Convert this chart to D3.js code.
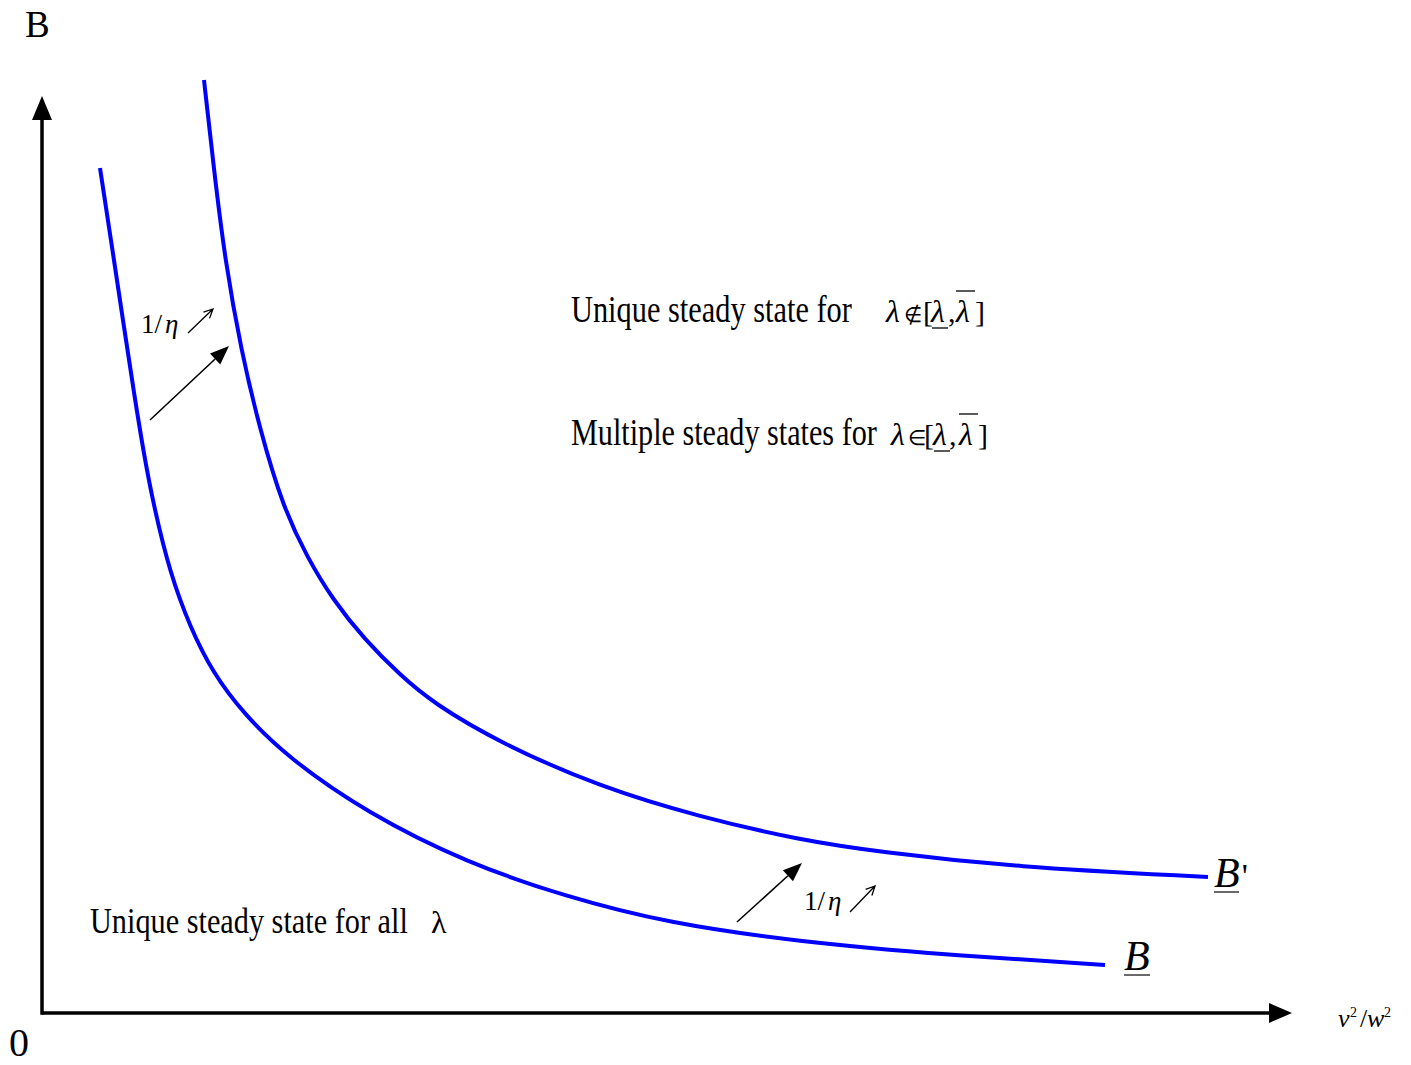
<!DOCTYPE html>
<html>
<head>
<meta charset="utf-8">
<script src="https://cdn.jsdelivr.net/npm/d3@7"></script>
<style>
  html, body { margin: 0; padding: 0; background: #fff; }
  svg { display: block; }
  text { font-family: "Liberation Serif", "Times New Roman", serif; fill: #000; }
</style>
</head>
<body>
<svg id="chart" width="1411" height="1065"></svg>
<script>
// Lower curve B: (v^2/w^2, B) pairs
const curveB = [
  [5.8, 84.5], [7.2, 75.3], [8.2, 68.6], [9.2, 62.0], [10.2, 55.8],
  [11.2, 50.6], [12.8, 44.0], [14.8, 38.6], [17.1, 34.0], [20.1, 30.0],
  [24.5, 25.6], [32.5, 20.0], [42.5, 15.0], [52.5, 11.6], [62.5, 9.0],
  [75.8, 7.1], [90.5, 5.8], [106.3, 4.8]
];

// Shifted curve B' after 1/eta rises
const curveBprime = [
  [16.2, 93.3], [17.2, 84.3], [18.3, 75.3], [19.9, 66.3], [21.8, 58.3],
  [24.1, 50.6], [26.5, 45.6], [29.1, 41.3], [32.3, 37.3], [35.8, 33.8],
  [39.1, 31.0], [45.8, 27.0], [55.8, 22.6], [65.8, 19.6], [75.8, 17.3],
  [83.8, 16.1], [97.1, 14.6], [116.6, 13.6]
];

// Shift arrows between the curves: [x0, y0, x1, y1]
const shiftArrows = [
  [10.8, 59.3, 18.7, 66.7],
  [69.5, 9.1, 76.0, 15.0]
];

// Small "increase" arrows next to the 1/eta labels
const riseArrows = [
  [14.6, 68.0, 17.1, 70.4],
  [80.8, 10.1, 83.3, 12.7]
];

const axisLabels = { y: "B", origin: "0" };

const svg = d3.select("#chart");
const x = d3.scaleLinear().domain([0, 125]).range([42, 1292]);
const y = d3.scaleLinear().domain([0, 100]).range([1013, 13]);

// Axes with arrowheads
const xMax = 125, yMax = 91.7;
svg.append("line")
  .attr("x1", x(0)).attr("y1", y(0)).attr("x2", x(xMax) - 20).attr("y2", y(0))
  .attr("stroke", "#000").attr("stroke-width", 3.5);
svg.append("line")
  .attr("x1", x(0)).attr("y1", y(0) + 1.75).attr("x2", x(0)).attr("y2", y(yMax) + 20)
  .attr("stroke", "#000").attr("stroke-width", 3.5);
svg.append("path")
  .attr("d", `M${x(xMax)},${y(0)} L${x(xMax) - 23},${y(0) - 10} L${x(xMax) - 23},${y(0) + 10} Z`)
  .attr("fill", "#000");
svg.append("path")
  .attr("d", `M${x(0)},${y(yMax)} L${x(0) - 10},${y(yMax) + 24} L${x(0) + 10},${y(yMax) + 24} Z`)
  .attr("fill", "#000");

// Curves
const line = d3.line()
  .x(d => x(d[0])).y(d => y(d[1]))
  .curve(d3.curveBasis);

[curveB, curveBprime].forEach(data => {
  svg.append("path")
    .datum(data)
    .attr("d", line)
    .attr("fill", "none")
    .attr("stroke", "#0000ff")
    .attr("stroke-width", 4)
    .attr("stroke-linecap", "butt");
});

// Filled-head arrows showing the shift
shiftArrows.forEach(([a, b, c, d]) => {
  const x0 = x(a), y0 = y(b), x1 = x(c), y1 = y(d);
  const ang = Math.atan2(y1 - y0, x1 - x0);
  const len = 19, half = 7.5;
  const bx = x1 - len * Math.cos(ang), by = y1 - len * Math.sin(ang);
  svg.append("line")
    .attr("x1", x0).attr("y1", y0).attr("x2", bx).attr("y2", by)
    .attr("stroke", "#000").attr("stroke-width", 1.6);
  const px = -Math.sin(ang) * half, py = Math.cos(ang) * half;
  svg.append("path")
    .attr("d", `M${x1},${y1} L${bx + px},${by + py} L${bx - px},${by - py} Z`)
    .attr("fill", "#000");
});

// Open-head rise arrows
riseArrows.forEach(([a, b, c, d]) => {
  const x0 = x(a), y0 = y(b), x1 = x(c), y1 = y(d);
  const ang = Math.atan2(y1 - y0, x1 - x0);
  const hl = 10;
  const h1 = [x1 - hl * Math.cos(ang - 0.45), y1 - hl * Math.sin(ang - 0.45)];
  const h2 = [x1 - hl * Math.cos(ang + 0.45), y1 - hl * Math.sin(ang + 0.45)];
  svg.append("path")
    .attr("d", `M${x0},${y0} L${x1},${y1} M${h1[0]},${h1[1]} L${x1},${y1} L${h2[0]},${h2[1]}`)
    .attr("fill", "none").attr("stroke", "#000").attr("stroke-width", 1.3);
});

// 1/eta labels
function etaLabel(px, py) {
  const t = svg.append("text").attr("x", px).attr("y", py).attr("font-size", 27);
  t.append("tspan").text("1/");
  t.append("tspan").attr("dx", 3).attr("font-style", "italic").text("η");
}
etaLabel(141, 333);
etaLabel(804, 910);

// Axis labels
svg.append("text").attr("x", 25).attr("y", 37).attr("font-size", 37).text(axisLabels.y);
svg.append("text").attr("x", 9).attr("y", 1056).attr("font-size", 40).text(axisLabels.origin);

// x-axis label v^2 / w^2
const xlab = svg.append("g");
const xpart = (px, py, s, size, italic) => xlab.append("text")
  .attr("x", px).attr("y", py).attr("font-size", size)
  .attr("font-style", italic ? "italic" : "normal").text(s);
xpart(1338, 1027, "v", 26, true);
xpart(1350, 1017, "2", 14, false);
xpart(1360, 1027, "/", 26, false);
xpart(1367, 1027, "w", 26, true);
xpart(1384, 1017, "2", 14, false);

// Curve labels
function curveLabel(px, py, main, prime, ulen) {
  const t = svg.append("text").attr("x", px).attr("y", py).attr("font-size", 42);
  t.append("tspan").attr("font-style", "italic").text(main);
  if (prime) t.append("tspan").attr("dx", 2).attr("font-size", 34).text(prime);
  svg.append("line")
    .attr("x1", px).attr("x2", px + ulen).attr("y1", py + 5).attr("y2", py + 5)
    .attr("stroke", "#444").attr("stroke-width", 1.6);
}
curveLabel(1214, 887, "B", "'", 25);
curveLabel(1124, 970, "B", null, 26);

// Region descriptions: tall serif squeezed horizontally to the given width
function condensed(px, py, str, width, size) {
  const t = svg.append("text").attr("x", 0).attr("y", 0).attr("font-size", size).text(str);
  const natural = t.node().getComputedTextLength();
  t.attr("transform", `translate(${px},${py}) scale(${width / natural},1)`);
}
condensed(571, 322, "Unique steady state for", 281, 38);
condensed(571, 445, "Multiple steady states for", 306, 38);
condensed(90, 933, "Unique steady state for all", 318, 36);
svg.append("text").attr("x", 431).attr("y", 933).attr("font-size", 32).text("λ");

// Interval expressions: λ ∉ [λ_, λ¯] and λ ∈ [λ_, λ¯]
function interval(px, py, rel, offs) {
  const g = svg.append("g");
  const put = (dx, s, opts) => g.append("text")
    .attr("x", px + dx).attr("y", py)
    .attr("font-size", opts.size)
    .attr("font-style", opts.italic ? "italic" : "normal")
    .text(s);
  put(0, "λ", { italic: true, size: 32 });
  put(offs[0], rel, { size: 21 });
  put(offs[1], "[", { size: 30 });
  put(offs[2], "λ", { italic: true, size: 32 });
  put(offs[3], ",", { size: 30 });
  put(offs[4], "λ", { italic: true, size: 32 });
  put(offs[5], "]", { size: 30 });
  g.append("line").attr("x1", px + offs[2] + 1).attr("x2", px + offs[2] + 17)
    .attr("y1", py + 6).attr("y2", py + 6).attr("stroke", "#000").attr("stroke-width", 1.3);
  g.append("line").attr("x1", px + offs[4]).attr("x2", px + offs[4] + 19)
    .attr("y1", py - 31).attr("y2", py - 31).attr("stroke", "#000").attr("stroke-width", 1.3);
}
interval(886, 322, "∉", [18, 37, 45, 62, 70, 89]);
interval(891, 445, "∈", [17, 33, 42, 58, 68, 87]);
</script>
</body>
</html>
